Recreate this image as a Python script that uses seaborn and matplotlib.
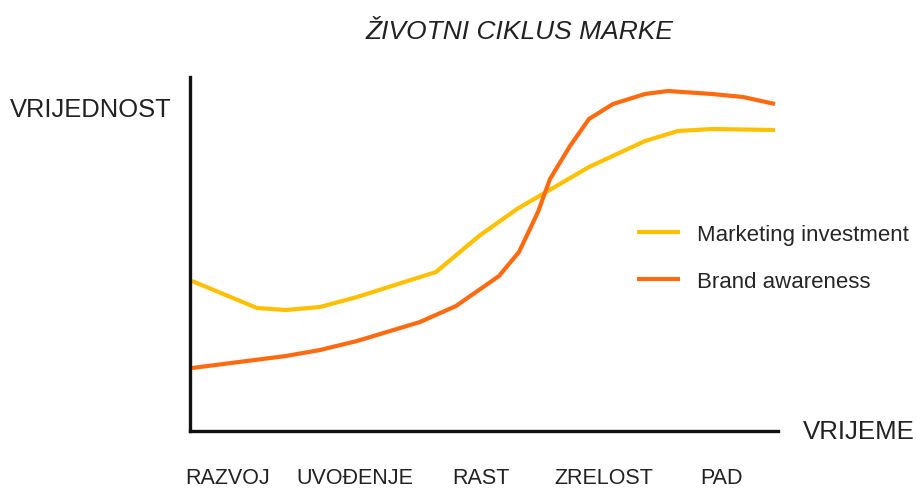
import pandas as pd
import seaborn as sns
import matplotlib.pyplot as plt

# values (x = time position, y = value)
marketing_x = [2, 67, 96, 130, 167, 246, 289, 327, 399, 455, 488, 522, 585]
marketing_y = [150, 123, 121, 124, 134, 159, 195, 222, 264, 290, 300, 302, 301]

brand_x = [2, 96, 130, 167, 230, 266, 309, 329, 348, 360, 380, 399, 423, 455, 478, 522, 553, 585]
brand_y = [63, 75, 81, 90, 109, 125, 155, 179, 219, 252, 285, 312, 327, 337, 340, 337, 334, 327]

phases = ["RAZVOJ", "UVOĐENJE", "RAST", "ZRELOST", "PAD"]
phase_pos = [38, 165, 291, 414, 531]

series_names = ["Marketing investment", "Brand awareness"]
colors = ["#FFC000", "#FF6A10"]

df = pd.concat([
    pd.DataFrame({"t": marketing_x, "v": marketing_y, "serija": series_names[0]}),
    pd.DataFrame({"t": brand_x, "v": brand_y, "serija": series_names[1]}),
])

sns.set_style("white")
plt.rcParams["font.family"] = ["Liberation Sans", "DejaVu Sans"]

fig = plt.figure(figsize=(9.16, 4.89), dpi=100)
ax = fig.add_axes([190 / 916, 1 - 432 / 489, 588 / 916, 354 / 489])

sns.lineplot(data=df, x="t", y="v", hue="serija", palette=colors, sort=False,
             linewidth=3, ax=ax)
for line in ax.lines:
    line.set_solid_joinstyle("round")
    line.set_solid_capstyle("butt")

ax.set_xlim(0, 588)
ax.set_ylim(0, 354)
ax.set_xlabel("")
ax.set_ylabel("")
ax.set_yticks([])
ax.set_xticks(phase_pos)
ax.set_xticklabels(phases, fontsize=15.5, color="#222222")
ax.tick_params(axis="x", length=0, pad=26)

for side in ["top", "right"]:
    ax.spines[side].set_visible(False)
for side in ["left", "bottom"]:
    ax.spines[side].set_linewidth(2.4)
    ax.spines[side].set_color("#111111")

ax.legend(loc="upper left", bbox_to_anchor=(637 / 916, 1 - 225 / 489),
          bbox_transform=fig.transFigure, frameon=False, fontsize=16,
          handlelength=1.95, handletextpad=0.75, labelspacing=1.15, borderpad=0,
          borderaxespad=0)

fig.text(520 / 916, 1 - 32 / 489, "ŽIVOTNI CIKLUS MARKE", ha="center", va="center",
         fontsize=19, style="italic", color="#222222")
fig.text(10 / 916, 1 - 110 / 489, "VRIJEDNOST", ha="left", va="center",
         fontsize=18.4, color="#222222")
fig.text(803 / 916, 1 - 432 / 489, "VRIJEME", ha="left", va="center",
         fontsize=18.6, color="#222222")

fig.savefig("out.png", dpi=100)
